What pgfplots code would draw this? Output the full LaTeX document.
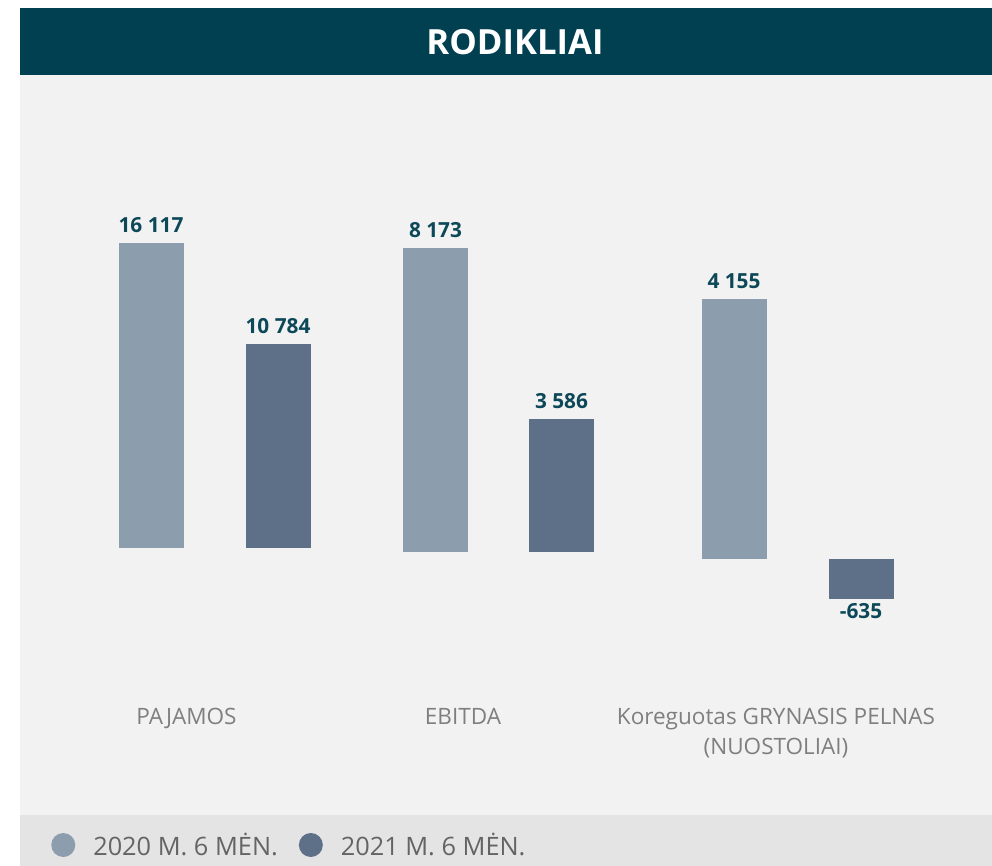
\documentclass[border=0pt]{standalone}
\usepackage{pgfplots}
\pgfplotsset{compat=1.18}
\usepackage{fontspec}
\setmainfont{Open Sans}
\definecolor{titlebar}{RGB}{1,64,80}
\definecolor{panel}{RGB}{242,242,242}
\definecolor{legband}{RGB}{228,228,228}
\definecolor{barlight}{RGB}{140,157,173}
\definecolor{bardark}{RGB}{94,112,135}
\definecolor{valtext}{RGB}{12,72,88}
\definecolor{cattext}{RGB}{127,127,127}
\definecolor{legtext}{RGB}{100,100,100}
\pgfplotsset{grp/.style={scale only axis, width=729pt, height=454.5pt,
  at={(15pt,-529.5pt)}, anchor=south west, xmin=20, xmax=992,
  axis line style={draw=none}, tick style={draw=none}, ytick=\empty, xtick=\empty,
  ybar, bar width=65, clip=false, point meta=explicit symbolic, nodes near coords,
  every node near coord/.append style={font=\fontsize{15.6}{18}\selectfont\bfseries, text=valtext, inner sep=0pt}},
  posl/.style={every node near coord/.append style={anchor=south, yshift=7.5pt}},
  negl/.style={every node near coord/.append style={anchor=north, yshift=-3pt}}}
\begin{document}
\begin{tikzpicture}
\fill[white] (0pt,0pt) rectangle (744pt,-649.5pt);
\fill[panel] (15pt,-56.25pt) rectangle (744pt,-611.25pt);
\fill[legband] (15pt,-611.25pt) rectangle (744pt,-649.5pt);
\fill[titlebar] (15pt,-6pt) rectangle (744pt,-56.25pt);
\node[text=white, font=\fontsize{26}{30}\selectfont\bfseries] at (386.25pt,-31.5pt) {RODIKLIAI};

\begin{axis}[grp, ymin=-8349.1, ymax=23673.7,
  xtick={186.5,463,776},
  xticklabels={PAJAMOS,EBITDA,{Koreguotas GRYNASIS PELNAS\\(NUOSTOLIAI)}},
  xticklabel style={align=center, font=\fontsize{16.9}{22.5}\selectfont, text=cattext, inner sep=0pt, anchor=north, yshift=2.5pt},
  legend columns=2,
  legend style={draw=none, fill=none, inner sep=0pt, at={(axis cs:30,-15694)}, anchor=west,
    nodes={inner sep=0pt}, font=\fontsize{19}{22}\selectfont, text=legtext},
  legend image code/.code={\path (-24.75pt,0pt) (22.5pt,0pt); \fill[#1] (0pt,0pt) circle (9pt);}]
\addplot[fill=barlight, draw=none, bar shift=0pt, posl] coordinates {(151,16117) [16 117]};
\addplot[fill=bardark, draw=none, bar shift=0pt, posl] coordinates {(278,10784) [10 784]};
\legend{2020 M. 6 MĖN., 2021 M. 6 MĖN.}
\end{axis}

\begin{axis}[grp, ymin=-4140.2, ymax=12151.8]
\addplot[fill=barlight, draw=none, bar shift=0pt, posl] coordinates {(435.5,8173) [8 173]};
\addplot[fill=bardark, draw=none, bar shift=0pt, posl] coordinates {(561.5,3586) [3 586]};
\end{axis}

\begin{axis}[grp, ymin=-2349.2, ymax=7335.2]
\addplot[fill=barlight, draw=none, bar shift=0pt, posl] coordinates {(734,4155) [4 155]};
\addplot[fill=bardark, draw=none, bar shift=0pt, negl] coordinates {(861,-635) [-635]};
\end{axis}
\end{tikzpicture}
\end{document}
